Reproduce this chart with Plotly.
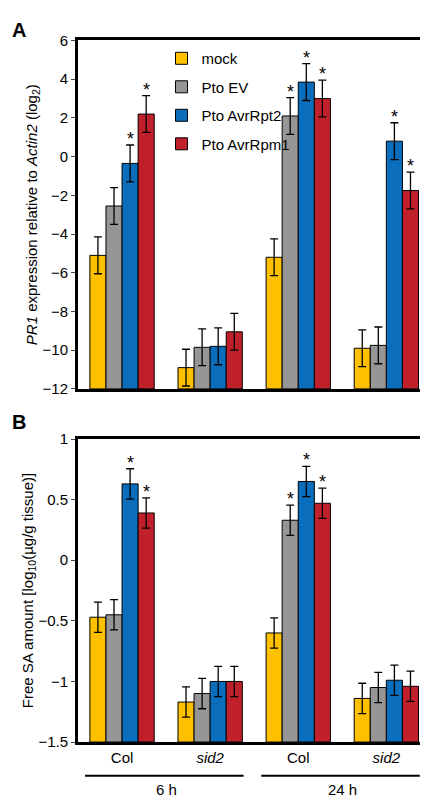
import plotly.graph_objects as go
from plotly.subplots import make_subplots

groups = ["Col", "<i>sid2</i>", "Col", "<i>sid2</i>"]
series = ["mock", "Pto EV", "Pto AvrRpt2", "Pto AvrRpm1"]
colors = ["#FFC000", "#969696", "#0A6EBD", "#C0202A"]

a_vals = [[-5.1, -10.9, -5.2, -9.9],
          [-2.55, -9.85, 2.1, -9.75],
          [-0.35, -9.8, 3.85, 0.8],
          [2.2, -9.05, 3.0, -1.75]]
a_err = [[0.95, 0.95, 0.95, 0.95],
         [0.95, 0.95, 0.95, 0.95],
         [0.95, 0.95, 0.95, 0.95],
         [0.95, 0.95, 0.95, 0.95]]
a_star = [[0, 0, 0, 0], [0, 0, 1, 0], [1, 0, 1, 1], [1, 0, 1, 1]]

b_vals = [[-0.47, -1.17, -0.60, -1.14],
          [-0.45, -1.10, 0.33, -1.05],
          [0.63, -1.00, 0.65, -0.99],
          [0.39, -1.00, 0.47, -1.04]]
b_err = [[0.125, 0.125, 0.125, 0.125],
         [0.125, 0.125, 0.125, 0.125],
         [0.125, 0.125, 0.125, 0.125],
         [0.125, 0.125, 0.125, 0.125]]
b_star = [[0, 0, 0, 0], [0, 0, 1, 0], [1, 0, 1, 0], [1, 0, 1, 0]]

a_base, b_base = -12, -1.5
bargap = 0.27
xs = list(range(len(groups)))

fig = make_subplots(rows=2, cols=1)
FONT = "Liberation Sans, Arial, sans-serif"

for i, s in enumerate(series):
    fig.add_trace(go.Bar(x=xs, y=[v - a_base for v in a_vals[i]], base=a_base, name=s,
                         marker=dict(color=colors[i], line=dict(color="black", width=1)),
                         error_y=dict(type="data", array=a_err[i], color="black", thickness=1.3, width=4),
                         legendgroup=s, showlegend=True), row=1, col=1)
    fig.add_trace(go.Bar(x=xs, y=[v - b_base for v in b_vals[i]], base=b_base, name=s,
                         marker=dict(color=colors[i], line=dict(color="black", width=1)),
                         error_y=dict(type="data", array=b_err[i], color="black", thickness=1.3, width=4),
                         legendgroup=s, showlegend=False), row=2, col=1)

ann = []
w = (1 - bargap) / 4
for i in range(4):
    for j in range(4):
        off = (i - 1.5) * w
        if a_star[i][j]:
            ann.append(dict(x=j + off, y=a_vals[i][j] + a_err[i][j], xref="x", yref="y", text="*",
                            showarrow=False, yanchor="bottom", font=dict(size=18, color="black", family=FONT), yshift=-6))
        if b_star[i][j]:
            ann.append(dict(x=j + off, y=b_vals[i][j] + b_err[i][j], xref="x2", yref="y2", text="*",
                            showarrow=False, yanchor="bottom", font=dict(size=18, color="black", family=FONT), yshift=-6))

ann.append(dict(x=0.0, y=1.0, xref="paper", yref="paper", text="<b>A</b>", showarrow=False,
                xanchor="left", yanchor="top", font=dict(size=20, family=FONT, color="black"), xshift=-68))
ann.append(dict(x=0.0, y=0.5, xref="paper", yref="paper", text="<b>B</b>", showarrow=False,
                xanchor="left", yanchor="top", font=dict(size=20, family=FONT, color="black"), xshift=-68))
for xc, t in [(0.5, "6 h"), (2.5, "24 h")]:
    ann.append(dict(x=xc, y=0.0, xref="x2", yref="paper", text=t, showarrow=False, yanchor="bottom",
                    font=dict(size=15, family=FONT, color="black"), yshift=0))

shapes = [dict(type="line", x0=x0, x1=x1, xref="x2", yref="paper", y0=0.031, y1=0.031,
               line=dict(color="black", width=2)) for x0, x1 in [(-0.42, 1.38), (1.58, 3.38)]]

fig.update_layout(
    width=428, height=800, margin=dict(l=70, r=10, t=0, b=0),
    paper_bgcolor="white", plot_bgcolor="white", barmode="group", bargap=bargap, bargroupgap=0,
    font=dict(family=FONT, size=15, color="black"),
    annotations=ann, shapes=shapes,
    legend=dict(x=0.24, y=0.968, xanchor="left", yanchor="top", bgcolor="rgba(0,0,0,0)",
                font=dict(size=15), tracegroupgap=6, itemwidth=30),
)
axcommon = dict(showline=True, linecolor="black", linewidth=3, mirror=True, showgrid=False, zeroline=False)
fig.update_xaxes(range=[-0.5, 3.45], tickvals=xs, ticktext=groups, ticks="", **axcommon)
fig.update_xaxes(showticklabels=False, row=1, col=1, domain=[0, 1])
fig.update_xaxes(row=2, col=1, tickfont=dict(size=15), domain=[0, 1])
fig.update_yaxes(range=[-12, 6], dtick=2, ticks="outside", ticklen=4, row=1, col=1, domain=[0.525, 0.97],
                 tickfont=dict(size=15),
                 title=dict(text="<i>PR1</i> expression relative to <i>Actin2</i> (log<sub>2</sub>)", font=dict(size=15), standoff=2),
                 **axcommon)
fig.update_yaxes(range=[-1.5, 1], dtick=0.5, ticks="outside", ticklen=4, row=2, col=1, domain=[0.074, 0.461],
                 tickfont=dict(size=15),
                 title=dict(text="Free SA amount [log<sub>10</sub>(µg/g tissue)]", font=dict(size=15), standoff=2),
                 **axcommon)
fig.write_html("out.html")
